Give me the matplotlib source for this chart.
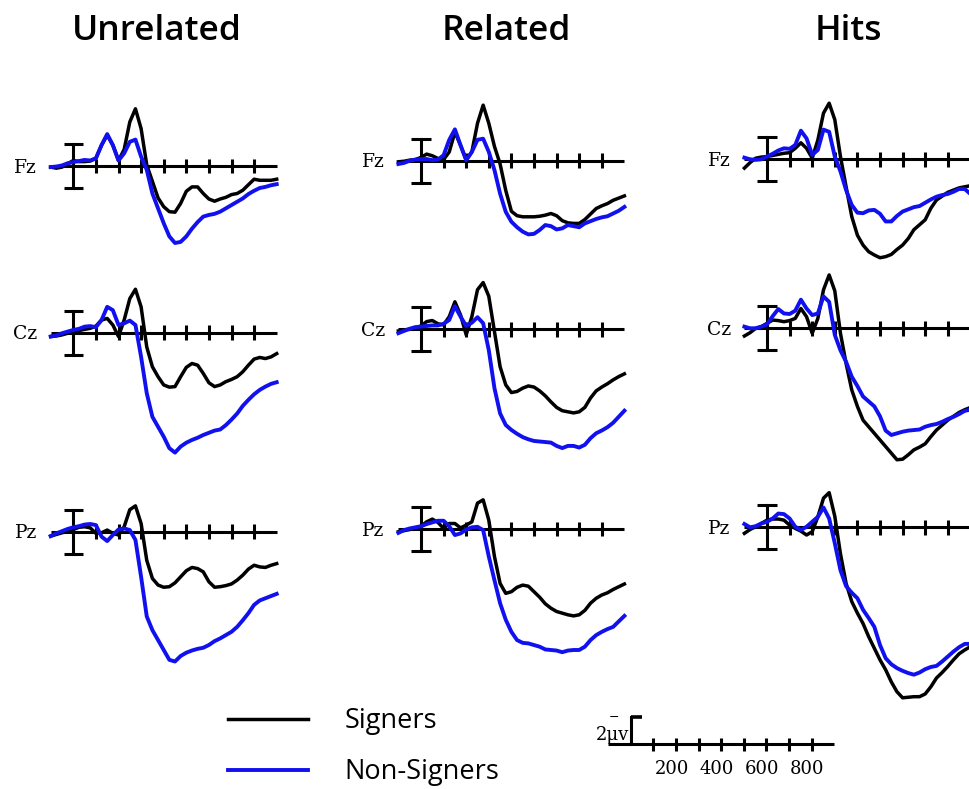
import numpy as np
import matplotlib
matplotlib.use("Agg")
import matplotlib.pyplot as plt

# time base of the averaged waveforms (ms, sampled every 25 ms)
times = np.arange(-100, 901, 25)

conditions = ["Unrelated", "Related", "Hits"]
electrodes = ["Fz", "Cz", "Pz"]
groups = ["Signers", "Non-Signers"]

# grand averages in microvolts (negative plotted up)
unrel_fz_signers = [0.1, 0.2, 0.1, -0.2, -0.5, -0.4, -0.4, -0.45, -0.7, -1.9, -2.8, -1.9, -0.5, -1.5, -4.0, -5.2, -3.4, -0.1, 1.4, 2.9, 3.7, 4.15, 4.2, 3.4, 2.3, 1.9, 1.9, 2.5, 3.0, 3.2, 3.0, 2.85, 2.6, 2.5, 2.2, 1.7, 1.2, 1.3, 1.3, 1.3, 1.2]
unrel_fz_non = [0.1, 0.05, -0.05, -0.25, -0.35, -0.45, -0.55, -0.5, -0.7, -1.9, -2.9, -1.9, -0.5, -1.15, -2.2, -2.4, -0.85, 0.35, 2.5, 3.85, 5.2, 6.4, 7.0, 6.9, 6.4, 5.7, 5.1, 4.6, 4.45, 4.35, 4.15, 3.85, 3.55, 3.25, 2.95, 2.55, 2.25, 2.0, 1.9, 1.75, 1.65]
unrel_cz_signers = [0.35, 0.3, 0.2, 0.05, -0.1, -0.2, -0.3, -0.4, -0.6, -1.15, -1.3, -0.7, 0.35, -1.15, -3.1, -3.95, -2.35, 1.3, 3.1, 4.0, 4.75, 4.95, 4.9, 4.0, 3.15, 2.8, 2.95, 3.7, 4.55, 4.9, 4.75, 4.45, 4.25, 4.0, 3.55, 2.95, 2.4, 2.25, 2.35, 2.2, 1.9]
unrel_cz_non = [0.35, 0.25, 0.05, -0.1, -0.25, -0.35, -0.55, -0.6, -0.5, -1.15, -2.35, -2.05, -0.7, -0.85, -1.1, -0.7, 2.2, 5.5, 7.65, 8.55, 9.45, 10.5, 10.9, 10.35, 10.0, 9.75, 9.55, 9.3, 9.1, 8.9, 8.8, 8.4, 7.9, 7.35, 6.65, 6.1, 5.6, 5.2, 4.9, 4.65, 4.5]
unrel_pz_signers = [0.4, 0.25, 0.1, -0.05, -0.2, -0.4, -0.45, -0.35, 0.15, 0.1, -0.15, 0.15, 0.3, -0.45, -2.0, -2.35, -0.75, 2.6, 4.25, 4.85, 5.05, 5.0, 4.65, 4.1, 3.55, 3.25, 3.35, 3.65, 4.55, 5.05, 5.0, 4.9, 4.75, 4.4, 3.95, 3.4, 3.05, 3.2, 3.25, 3.05, 2.9]
unrel_pz_non = [0.4, 0.15, -0.05, -0.25, -0.4, -0.5, -0.65, -0.7, -0.6, 0.45, 0.85, 0.3, -0.2, -0.3, -0.15, 0.75, 4.1, 7.7, 8.95, 9.85, 10.75, 11.65, 11.8, 11.3, 11.0, 10.8, 10.65, 10.55, 10.3, 9.95, 9.7, 9.4, 9.1, 8.65, 8.05, 7.4, 6.65, 6.25, 6.05, 5.85, 5.65]

rel_fz_signers = [0.1, 0.05, -0.05, -0.1, -0.3, -0.6, -0.45, -0.2, -0.1, -0.8, -2.6, -1.4, -0.05, -0.8, -3.4, -5.05, -3.4, -1.3, 0.3, 2.7, 4.6, 5.0, 5.1, 5.1, 5.1, 5.05, 4.95, 4.8, 5.0, 5.45, 5.65, 5.7, 5.7, 5.35, 4.85, 4.35, 4.1, 3.9, 3.6, 3.4, 3.2]
rel_fz_non = [0.3, 0.2, 0.0, -0.1, -0.15, -0.15, -0.05, -0.1, -0.5, -1.9, -2.85, -1.4, -0.05, -0.8, -1.9, -2.0, -0.8, 0.85, 3.0, 4.65, 5.55, 6.05, 6.45, 6.7, 6.65, 6.3, 5.85, 5.95, 6.25, 6.15, 5.85, 5.95, 6.05, 5.7, 5.5, 5.3, 5.15, 5.05, 4.8, 4.55, 4.2]
rel_cz_signers = [0.15, 0.05, 0.0, -0.1, -0.3, -0.7, -0.8, -0.5, -0.4, -1.15, -2.5, -1.3, 0.5, -1.15, -3.6, -4.25, -3.0, 0.2, 3.4, 5.05, 5.75, 5.65, 5.35, 5.15, 5.25, 5.6, 6.05, 6.6, 7.1, 7.4, 7.5, 7.6, 7.5, 7.1, 6.25, 5.6, 5.25, 4.95, 4.6, 4.3, 4.05]
rel_cz_non = [0.35, 0.15, -0.05, -0.2, -0.25, -0.3, -0.35, -0.35, -0.5, -0.85, -2.1, -1.15, -0.3, -0.6, -1.1, -0.55, 1.9, 5.35, 7.65, 8.7, 9.15, 9.5, 9.8, 10.0, 10.15, 10.2, 10.25, 10.3, 10.6, 10.8, 10.6, 10.6, 10.75, 10.5, 9.9, 9.45, 9.2, 8.9, 8.5, 7.95, 7.4]
rel_pz_signers = [0.25, 0.15, 0.05, -0.1, -0.25, -0.65, -0.9, -0.6, -0.05, -0.5, -0.5, -0.1, -0.35, -0.65, -2.35, -2.65, -0.8, 2.5, 4.95, 5.85, 5.7, 5.3, 5.1, 5.2, 5.7, 6.2, 6.8, 7.2, 7.5, 7.65, 7.8, 7.9, 7.8, 7.4, 6.75, 6.3, 6.0, 5.8, 5.5, 5.25, 5.0]
rel_pz_non = [0.35, 0.1, -0.05, -0.15, -0.25, -0.45, -0.6, -0.75, -0.75, -0.25, 0.55, 0.4, 0.05, -0.15, -0.2, 0.1, 2.5, 4.65, 6.75, 8.25, 9.35, 10.1, 10.35, 10.4, 10.55, 10.7, 10.95, 11.0, 11.05, 11.2, 11.05, 11.0, 11.0, 10.7, 10.1, 9.65, 9.35, 9.1, 8.9, 8.4, 7.9]

hits_fz_signers = [0.8, 0.3, -0.1, -0.2, -0.25, -0.35, -0.45, -0.55, -0.6, -1.0, -1.5, -1.0, -0.1, -1.75, -4.2, -5.1, -3.6, -0.25, 2.5, 5.2, 6.9, 7.8, 8.4, 8.7, 8.95, 8.85, 8.65, 8.2, 7.8, 7.2, 6.4, 5.95, 5.5, 4.45, 3.7, 3.35, 3.0, 2.8, 2.6, 2.5, 2.4]
hits_fz_non = [-0.15, 0.0, 0.05, 0.0, -0.25, -0.5, -0.8, -1.0, -0.95, -1.3, -2.6, -1.9, -0.4, -0.85, -2.7, -2.5, -0.25, 1.1, 2.8, 4.15, 4.85, 4.9, 4.65, 4.6, 4.95, 5.65, 5.65, 5.15, 4.75, 4.55, 4.35, 4.25, 3.95, 3.65, 3.4, 3.25, 3.15, 2.95, 2.7, 2.7, 3.15]
hits_cz_signers = [0.7, 0.4, 0.0, -0.15, -0.45, -0.75, -0.7, -0.6, -0.7, -0.9, -1.8, -1.05, 0.45, -0.9, -3.5, -4.85, -3.4, 0.45, 3.2, 5.6, 7.1, 8.35, 8.95, 9.55, 10.15, 10.75, 11.35, 11.95, 11.9, 11.5, 11.05, 10.8, 10.5, 9.85, 9.25, 8.8, 8.35, 8.0, 7.65, 7.4, 7.2]
hits_cz_non = [-0.15, 0.0, 0.0, -0.15, -0.35, -1.1, -1.75, -1.35, -1.3, -1.6, -2.6, -1.8, -1.2, -1.35, -2.9, -2.4, 0.6, 2.0, 3.05, 4.4, 5.25, 6.2, 6.65, 7.1, 8.0, 9.3, 9.7, 9.55, 9.4, 9.3, 9.25, 9.2, 8.95, 8.8, 8.7, 8.5, 8.25, 8.05, 7.8, 7.5, 7.4]
hits_pz_signers = [0.55, 0.2, -0.05, -0.35, -0.65, -0.75, -0.75, -0.65, -0.2, 0.1, 0.35, 0.7, 0.4, -0.95, -2.65, -3.15, -1.0, 2.4, 5.1, 6.75, 7.8, 8.75, 9.95, 11.0, 12.05, 12.95, 14.05, 14.95, 15.5, 15.45, 15.4, 15.4, 15.15, 14.5, 13.7, 13.2, 12.65, 12.05, 11.5, 11.15, 10.85]
hits_pz_non = [-0.3, 0.0, -0.1, -0.35, -0.5, -0.8, -1.25, -1.2, -0.8, -0.05, 0.25, -0.05, -0.5, -0.95, -1.8, -0.8, 1.45, 3.9, 5.35, 5.95, 6.45, 7.5, 8.25, 9.05, 10.7, 11.9, 12.45, 12.8, 13.05, 13.25, 13.4, 13.2, 12.9, 12.7, 12.6, 12.2, 11.75, 11.3, 10.9, 10.6, 10.6]

waves = {
    ("Unrelated", "Fz"): (unrel_fz_signers, unrel_fz_non),
    ("Unrelated", "Cz"): (unrel_cz_signers, unrel_cz_non),
    ("Unrelated", "Pz"): (unrel_pz_signers, unrel_pz_non),
    ("Related", "Fz"): (rel_fz_signers, rel_fz_non),
    ("Related", "Cz"): (rel_cz_signers, rel_cz_non),
    ("Related", "Pz"): (rel_pz_signers, rel_pz_non),
    ("Hits", "Fz"): (hits_fz_signers, hits_fz_non),
    ("Hits", "Cz"): (hits_cz_signers, hits_cz_non),
    ("Hits", "Pz"): (hits_pz_signers, hits_pz_non),
}

tick_ms = [100, 200, 300, 400, 500, 600, 700, 800]
scale_labels = ["200", "400", "600", "800"]

# page layout in pixels
W, H = 969, 789
PX_MS = 0.226
PX_UV = 11.0
col_zero = [73.3, 421.0, 767.0]
row_base = [[166.0, 160.7, 159.3],
            [332.7, 329.3, 328.3],
            [531.7, 529.0, 527.3]]
title_x = [157, 506, 848]
BLUE = "#1111f0"
SERIF = "DejaVu Serif"

fig = plt.figure(figsize=(W / 100, H / 100), dpi=100)


def panel_axes(x0, base, t_lo, t_hi, v_top, v_bot, px_uv):
    left = x0 + t_lo * PX_MS
    width = (t_hi - t_lo) * PX_MS
    top = base + v_top * px_uv
    height = (v_bot - v_top) * px_uv
    ax = fig.add_axes([left / W, 1 - (top + height) / H, width / W, height / H])
    ax.set_xlim(t_lo, t_hi)
    ax.set_ylim(v_bot, v_top)   # negative up
    ax.axis("off")
    return ax


handles = []
for c, cond in enumerate(conditions):
    fig.text(title_x[c] / W, 1 - 40 / H, cond, ha="center", va="baseline",
             fontsize=25.5, fontweight="semibold", family="Open Sans")
    for r, elec in enumerate(electrodes):
        ax = panel_axes(col_zero[c], row_base[r][c], -110, 910, -7, 17, PX_UV)
        ax.plot([-100, 900], [0, 0], color="black", lw=2.2, solid_capstyle="butt", clip_on=False)
        ax.vlines(tick_ms, -0.68, 0.68, color="black", lw=2.2)
        ax.plot([0, 0], [-2, 2], color="black", lw=2.2)
        ax.hlines([-2, 2], -43, 43, color="black", lw=2.2)
        sig, non = waves[(cond, elec)]
        l1, = ax.plot(times, sig, color="black", lw=2.5, clip_on=False,
                      solid_joinstyle="round")
        l2, = ax.plot(times, non, color=BLUE, lw=2.8, clip_on=False,
                      solid_joinstyle="round")
        if not handles:
            handles = [l1, l2]
        ax.text(-160, 0.6, elec, ha="right", va="baseline", fontsize=13.5,
                family=SERIF)

fig.legend(handles, groups, loc="upper left", bbox_to_anchor=(228 / W, 1 - 707 / H),
           frameon=False, prop={"family": "Open Sans", "size": 19.5},
           handlelength=2.95, handletextpad=1.35, labelspacing=0.85,
           borderpad=0, borderaxespad=0)

# calibration: 2 microvolts and time axis in ms
sax = panel_axes(630.7, 744.3, -110, 910, -3, 3, 13.5)
sax.plot([-100, 900], [0, 0], color="black", lw=2.2, solid_capstyle="butt")
sax.vlines(tick_ms, -0.5, 0.5, color="black", lw=2.2)
sax.plot([0, 0], [0, -2], color="black", lw=2.2)
sax.hlines(-2, 0, 50, color="black", lw=2.6)
sax.text(-6, -0.35, "2\u03bcv", ha="right", va="baseline", fontsize=13,
         family=SERIF)
sax.text(-75, -2.0, "\u2212", ha="center", va="center", fontsize=9,
         family=SERIF)
for lab in scale_labels:
    sax.text(int(lab) - 18, 1.8, lab, ha="center", va="center", fontsize=13,
             family=SERIF)

fig.savefig("out.png", dpi=100)
